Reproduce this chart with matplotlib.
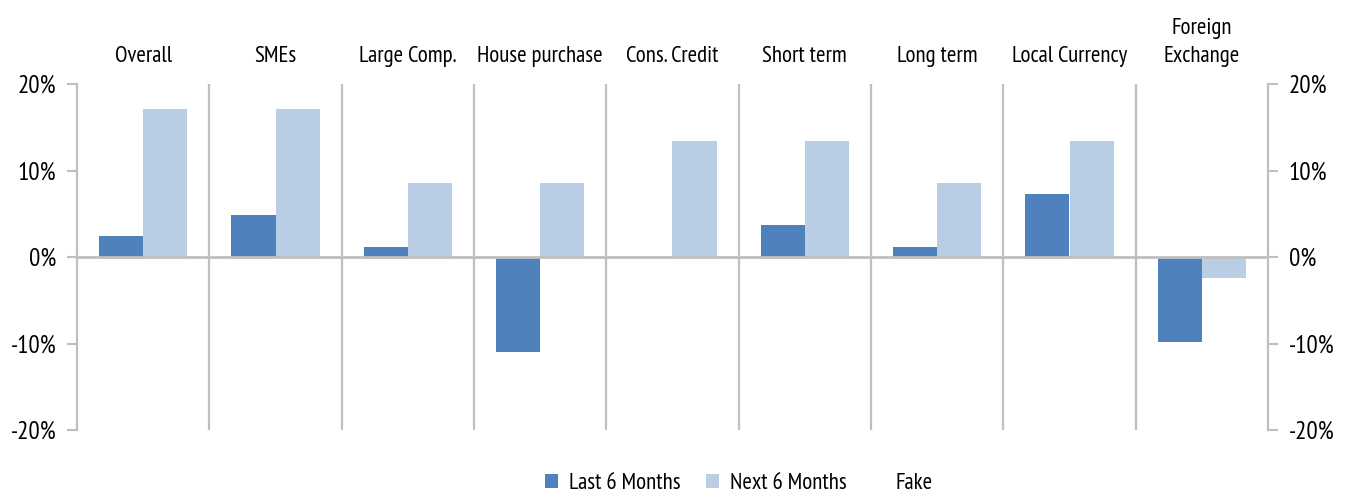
import matplotlib
matplotlib.use("Agg")
import matplotlib.pyplot as plt
import matplotlib.transforms as mtransforms
from matplotlib.patches import Patch
import numpy as np

categorias = ["Overall", "SMEs", "Large Comp.", "House purchase", "Cons. Credit",
              "Short term", "Long term", "Local Currency", "Foreign\nExchange"]
ultimos_6m = [2.4, 4.9, 1.2, -11.0, 0.0, 3.7, 1.2, 7.3, -9.8]
proximos_6m = [17.1, 17.1, 8.5, 8.5, 13.4, 13.4, 8.5, 13.4, -2.4]

COR_ESCURA = "#4F81BD"
COR_CLARA = "#B9CDE5"
COR_EIXO = "#BFBFBF"

plt.rcParams["font.family"] = ["PT Sans Narrow", "Liberation Sans Narrow", "DejaVu Sans"]
plt.rcParams["font.size"] = 16.5

fig = plt.figure(figsize=(13.53, 4.95), dpi=100)
ax = fig.add_axes([77 / 1353, 1 - 430 / 495, (1268 - 77) / 1353, (430 - 84) / 495])

n = len(categorias)
x = np.arange(n) + 0.5
w = 1 / 3
ax.bar(x - w / 2, ultimos_6m, width=w, color=COR_ESCURA, label="Last 6 Months", zorder=2)
ax.bar(x + w / 2, proximos_6m, width=w, color=COR_CLARA, label="Next 6 Months", zorder=2)

# separadores entre categorias
for i in range(1, n):
    ax.axvline(i, color=COR_EIXO, lw=1.6, zorder=1)
ax.axhline(0, color=COR_EIXO, lw=2, zorder=3)

ax.set_xlim(0, n)
ax.set_ylim(-20, 20)
ax.set_yticks([-20, -10, 0, 10, 20])
ax.set_yticklabels([f"{v}%" for v in [-20, -10, 0, 10, 20]])
ax.set_xticks([])
ax.tick_params(axis="y", left=True, right=True, labelleft=True, labelright=True,
               length=7, width=1.5, color=COR_EIXO, pad=8, labelsize=18)
for lado in ["top", "bottom"]:
    ax.spines[lado].set_visible(False)
for lado in ["left", "right"]:
    ax.spines[lado].set_color(COR_EIXO)
    ax.spines[lado].set_linewidth(1.6)

trans = mtransforms.blended_transform_factory(ax.transData, ax.transAxes)
for xi, nome in zip(x, categorias):
    ax.text(xi, 1 + 22 / 346, nome, transform=trans, ha="center", va="baseline",
            fontsize=16.5, linespacing=1.45)

handles, labels = ax.get_legend_handles_labels()
handles.append(Patch(facecolor="none", edgecolor="none"))
labels.append("Fake")
fig.legend(handles, labels, loc="lower center", bbox_to_anchor=(0.546, -0.04), ncol=3,
           frameon=False, handlelength=0.6, handleheight=0.6, handletextpad=0.45,
           columnspacing=1.1, fontsize=16.5)

fig.savefig("out.png", dpi=100)
